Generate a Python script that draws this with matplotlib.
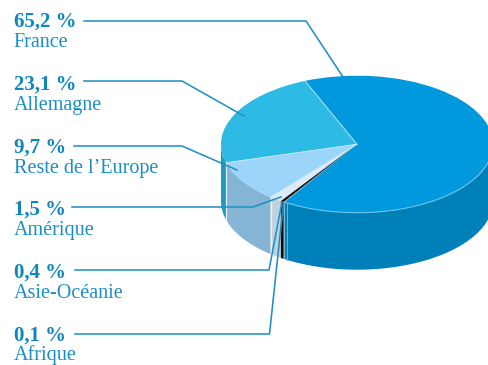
import numpy as np
import matplotlib
matplotlib.use("Agg")
import matplotlib.pyplot as plt
from matplotlib.patches import Wedge
from matplotlib.transforms import Affine2D

W, H = 489, 365
CX, CY, RX, RY, DEPTH = 357, 144.2, 136, 68.5, 57
START_ANGLE = 112.5

regions = ["France", "Allemagne", "Reste de l’Europe", "Amérique", "Asie-Océanie", "Afrique"]
shares = [65.2, 23.1, 9.7, 1.5, 0.4, 0.1]
top_colors = ["#0099DD", "#2DBBE5", "#9BD6FA", "#DCEBFB", "#111111", "#8C9AA3"]
side_colors = ["#0080B8", "#1E9BC0", "#85B4D4", "#BFD0DF", "#0A0A0A", "#9AA7AF"]

text_color = "#1B8DC4"
value_color = "#0F86BF"
line_color = "#2191C4"

# Baselines of the value and name lines, and the leader running to each slice
value_y = [27, 90, 153, 215, 278, 341]
name_y = [47, 110, 173, 235, 298, 360]
leaders = [
    [(84, 21), (306, 21), (346, 81.5)],
    [(84, 81), (182, 81), (244, 116)],
    [(74, 146), (182, 146), (237, 170)],
    [(72, 207), (253, 207), (281, 197)],
    [(75, 270), (269, 270), (282, 202)],
    [(75, 334), (269.5, 334), (283.5, 203)],
]

fig = plt.figure(figsize=(W / 100, H / 100), dpi=100, facecolor="white")
ax = fig.add_axes([0, 0, 1, 1])
ax.set_xlim(0, W)
ax.set_ylim(H, 0)
ax.axis("off")

# France runs clockwise from the start angle; the other slices run on from it
# the other way round, so each slice spans [lo, hi] in counter-clockwise degrees.
sweeps = np.array(shares) / sum(shares) * 360
los = np.zeros(len(shares))
his = np.zeros(len(shares))
los[0], his[0] = START_ANGLE - sweeps[0], START_ANGLE
angle = START_ANGLE
for i in range(1, len(shares)):
    los[i], his[i] = angle, angle + sweeps[i]
    angle += sweeps[i]


def rim(a0, a1, n=80):
    t = np.radians(np.linspace(a0, a1, n))
    return CX + RX * np.cos(t), CY - RY * np.sin(t)


# Outer wall: only the part of each slice facing the viewer (180° to 360°)
for lo_a, hi_a, col in zip(los, his, side_colors):
    for shift in (0, 360):
        hi = min(hi_a + shift, 360)
        lo = max(lo_a + shift, 180)
        if hi <= lo:
            continue
        x, y = rim(lo, hi)
        ax.fill(np.r_[x, x[::-1]], np.r_[y, y[::-1] + DEPTH], color=col, lw=0, zorder=2)

# Pale seams on the wall where slices meet
for a in (los[2], los[3]):
    x, y = rim(a, a, 2)
    ax.plot(x, [y[0], y[0] + DEPTH], color="#E8F2F8", lw=0.9, zorder=3)
x, y = rim(his[5] + 1.1, his[5] + 1.1, 2)
ax.plot(x, [y[0], y[0] + DEPTH], color="#5FB3DA", lw=0.8, zorder=3)

# Top face: unit wedges stretched into the flattened ellipse
flatten = Affine2D().scale(RX, -RY).translate(CX, CY) + ax.transData
for lo_a, hi_a, col in zip(los, his, top_colors):
    ax.add_patch(Wedge((0, 0), 1, lo_a, hi_a, facecolor=col, edgecolor="none",
                       transform=flatten, zorder=4))

# Thin light edge along the front of the top face
x, y = rim(his[5], 360)
ax.plot(x, y, color="#6CC3EA", lw=0.8, zorder=5)
for a in (los[1], los[2], los[3]):
    x, y = rim(a, a, 2)
    ax.plot([CX, x[0]], [CY, y[0]], color="#C8E8F7", lw=0.6, zorder=5)

for pts in leaders:
    xs, ys = zip(*pts)
    ax.plot(xs, ys, color=line_color, lw=1.15, solid_joinstyle="miter", zorder=6)

for region, share, vy, ny in zip(regions, shares, value_y, name_y):
    label = f"{share:.1f} %".replace(".", ",")
    ax.text(13.5, vy, label, family="Liberation Serif", weight="bold", fontsize=15,
            color=value_color, va="baseline", ha="left", zorder=7)
    ax.text(13.5, ny, region, family="Liberation Serif", fontsize=14.5,
            color=text_color, va="baseline", ha="left", zorder=7)

fig.savefig("out.png", dpi=100, facecolor="white")
